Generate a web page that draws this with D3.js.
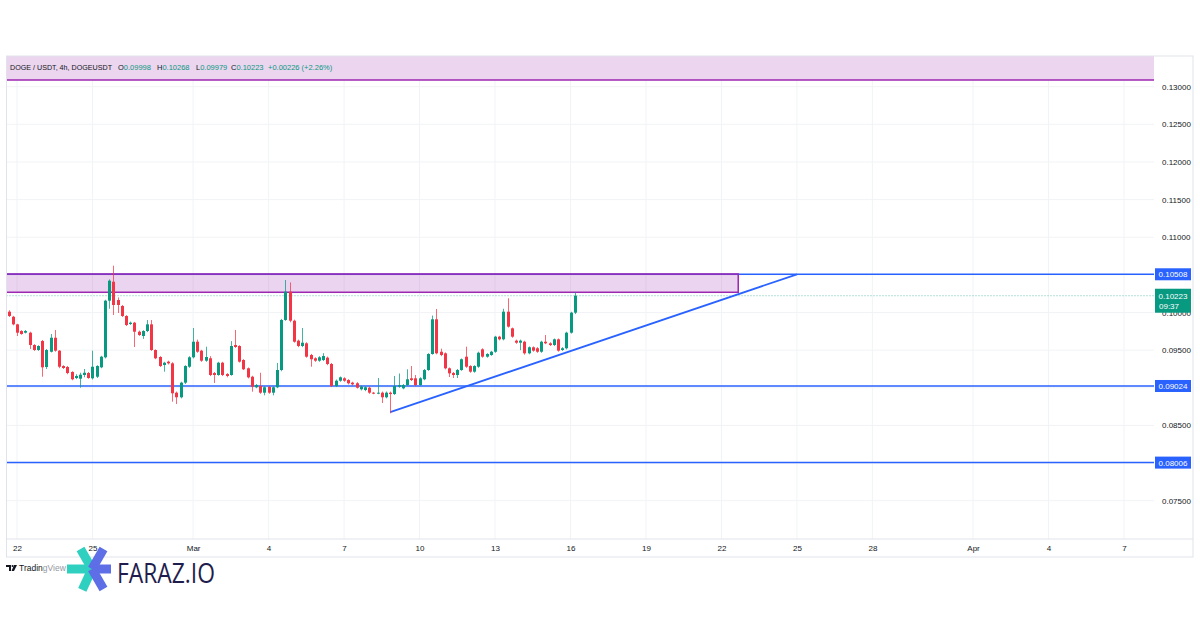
<!DOCTYPE html>
<html><head><meta charset="utf-8">
<script src="https://cdn.jsdelivr.net/npm/d3@7"></script>
<style>
html,body{margin:0;padding:0;background:#fff;}
svg{display:block;font-family:"Liberation Sans",Arial,sans-serif;}
</style></head>
<body><svg id="c" width="1200" height="630"></svg>
<script>
// ---------- DATA ----------
const symbolTitle = "DOGE / USDT, 4h, DOGEUSDT";
const startTime = Date.UTC(2023, 1, 21, 16); // first 4h candle
const intervalHours = 4;
const opens = [0.10011,0.09944,0.09843,0.09754,0.09732,0.09732,0.09568,0.09502,0.09622,0.09276,0.09479,0.09665,0.09493,0.09289,0.09276,0.09210,0.09130,0.09121,0.09170,0.09196,0.09126,0.09147,0.09272,0.09405,0.10157,0.10409,0.10166,0.10087,0.09954,0.09847,0.09865,0.09745,0.09688,0.09754,
0.09843,0.09502,0.09409,0.09303,0.09347,0.09325,0.08935,0.08874,0.09068,0.09280,0.09405,0.09612,0.09493,0.09360,0.09392,0.09196,0.09170,0.09333,0.09183,0.09170,0.09568,0.09555,0.09369,0.09259,0.09147,0.09007,0.09024,0.08935,0.09011,0.08935,0.09007,0.09236,0.09901,0.10277,0.09891,
0.09626,0.09555,0.09591,0.09436,0.09392,0.09360,0.09369,0.09400,0.09316,0.09024,0.09094,0.09126,0.09103,0.09068,0.09060,0.08980,0.08971,0.09001,0.08935,0.08927,0.08935,0.08874,0.08935,0.08917,0.09015,0.08993,0.09037,0.09126,0.09126,0.09037,0.09113,0.09236,0.09449,0.09910,
0.09479,0.09458,0.09259,0.09196,0.09170,0.09236,0.09413,0.09289,0.09214,0.09280,0.09511,0.09413,0.09436,0.09479,0.09679,0.09644,0.10011,0.09790,0.09626,0.09599,0.09612,0.09458,0.09538,0.09525,0.09479,0.09612,0.09591,0.09568,0.09644,0.09502,0.09525,0.09732,0.09998];
const highs = [0.10030,0.09955,0.09850,0.09765,0.09768,0.09745,0.09580,0.09565,0.09635,0.09515,0.09715,0.09768,0.09500,0.09300,0.09290,0.09220,0.09180,0.09200,0.09250,0.09210,0.09493,0.09300,0.09425,0.10170,0.10440,0.10622,0.10200,0.10100,0.09965,0.09880,0.09875,0.09760,0.09765,0.09900,
0.09901,0.09510,0.09420,0.09345,0.09360,0.09340,0.08950,0.09080,0.09300,0.09420,0.09794,0.09640,0.09505,0.09546,0.09420,0.09210,0.09345,0.09345,0.09195,0.09620,0.09768,0.09565,0.09380,0.09270,0.09160,0.09050,0.09200,0.09020,0.09025,0.09020,0.09330,0.09915,0.10432,0.10400,0.09905,
0.09640,0.09794,0.09605,0.09450,0.09405,0.09420,0.09460,0.09415,0.09330,0.09110,0.09150,0.09140,0.09115,0.09080,0.09075,0.09030,0.09020,0.09015,0.08945,0.09130,0.08950,0.08950,0.08950,0.09157,0.09190,0.09050,0.09246,0.09289,0.09170,0.09140,0.09250,0.09460,0.09960,0.10047,
0.09520,0.09470,0.09270,0.09210,0.09250,0.09390,0.09546,0.09300,0.09300,0.09480,0.09525,0.09460,0.09490,0.09690,0.09690,0.10050,0.10189,0.09800,0.09640,0.09640,0.09625,0.09550,0.09550,0.09540,0.09625,0.09701,0.09605,0.09655,0.09655,0.09540,0.09745,0.10010,0.10268];
const lows = [0.09940,0.09830,0.09688,0.09705,0.09722,0.09515,0.09490,0.09490,0.09147,0.09250,0.09470,0.09480,0.09260,0.09250,0.09180,0.09100,0.09115,0.09001,0.09140,0.09120,0.09110,0.09130,0.09260,0.09390,0.10050,0.09967,0.09994,0.09940,0.09820,0.09835,0.09542,0.09690,0.09650,0.09740,
0.09490,0.09380,0.09276,0.09214,0.09310,0.08815,0.08785,0.08860,0.09050,0.09265,0.09390,0.09465,0.09345,0.09345,0.09155,0.09064,0.09160,0.09155,0.09140,0.09160,0.09530,0.09335,0.09235,0.09125,0.08948,0.08995,0.08920,0.08900,0.08920,0.08900,0.08995,0.09220,0.09890,0.09870,0.09600,
0.09540,0.09540,0.09400,0.09280,0.09345,0.09345,0.09355,0.09300,0.09010,0.09010,0.09080,0.09080,0.09045,0.09030,0.08990,0.08965,0.08955,0.08920,0.08915,0.08915,0.08798,0.08860,0.08661,0.08905,0.09000,0.08980,0.09025,0.09090,0.09020,0.09025,0.09100,0.09225,0.09440,0.09445,
0.09420,0.09245,0.09143,0.09130,0.09130,0.09225,0.09265,0.09200,0.09200,0.09265,0.09400,0.09400,0.09425,0.09465,0.09630,0.09630,0.09800,0.09665,0.09585,0.09500,0.09440,0.09445,0.09480,0.09465,0.09465,0.09580,0.09555,0.09555,0.09480,0.09490,0.09510,0.09720,0.09979];
const closes = [0.09954,0.09843,0.09732,0.09715,0.09754,0.09568,0.09502,0.09555,0.09272,0.09502,0.09665,0.09493,0.09280,0.09263,0.09196,0.09113,0.09157,0.09174,0.09200,0.09130,0.09280,0.09289,0.09413,0.10157,0.10423,0.10100,0.10100,0.09954,0.09834,0.09865,0.09745,0.09701,0.09754,0.09843,
0.09502,0.09392,0.09289,0.09333,0.09325,0.08927,0.08874,0.09068,0.09289,0.09405,0.09612,0.09479,0.09360,0.09409,0.09170,0.09170,0.09333,0.09170,0.09157,0.09555,0.09542,0.09347,0.09246,0.09139,0.09015,0.09037,0.08935,0.09007,0.08935,0.09007,0.09236,0.09901,0.10277,0.09891,0.09612,
0.09555,0.09599,0.09413,0.09379,0.09360,0.09405,0.09422,0.09316,0.09024,0.09094,0.09139,0.09094,0.09060,0.09046,0.09001,0.09015,0.09007,0.08935,0.08927,0.08935,0.08874,0.08935,0.08917,0.09024,0.09037,0.09037,0.09113,0.09103,0.09037,0.09126,0.09236,0.09449,0.09910,0.09458,
0.09436,0.09259,0.09192,0.09170,0.09236,0.09379,0.09280,0.09214,0.09289,0.09466,0.09413,0.09449,0.09479,0.09679,0.09644,0.10011,0.09812,0.09679,0.09599,0.09626,0.09458,0.09538,0.09493,0.09479,0.09612,0.09591,0.09568,0.09644,0.09493,0.09525,0.09732,0.09998,0.10223];

const headerKeys = ["O","H","L","C"];
const headerValues = ["0.09998","0.10268","0.09979","0.10223"];
const headerChange = "+0.00226 (+2.26%)";
const countdown = "09:37";

const gridTicks = [0.075,0.080,0.085,0.090,0.095,0.100,0.105,0.110,0.115,0.120,0.125,0.130];
const priceLabelTicks = [0.075,0.085,0.095,0.100,0.110,0.115,0.120,0.125,0.130];
const timeTickDates = [[2023,1,22],[2023,1,25],[2023,2,1],[2023,2,4],[2023,2,7],[2023,2,10],[2023,2,13],[2023,2,16],[2023,2,19],[2023,2,22],[2023,2,25],[2023,2,28],[2023,3,1],[2023,3,4],[2023,3,7]];
const timeTickLabels = ["22","25","Mar","4","7","10","13","16","19","22","25","28","Apr","4","7"];

const levelLines = [0.10508, 0.09024, 0.08006];
const currentPrice = 0.10223;
const resistZone = {low:0.10269, high:0.10512, end:[2023,2,22,16]};
const topZone = {low:0.13089, high:0.1350};
const trendLine = [{d:[2023,2,8,20], p:0.08676}, {d:[2023,2,25,0], p:0.10508}];

// ---------- LAYOUT ----------
const L = 6.5, R = 1154, T = 56, B = 539, AX = 1193, AB = 557;
const UP = "#089981", DN = "#f23645", BLUE = "#2962ff", PURP = "#9c27b0";
const svg = d3.select("#c");
const x = d3.scaleUtc().domain([Date.UTC(2023,1,22), Date.UTC(2023,3,7)]).range([17,1124]);
const y = d3.scaleLinear().domain([0.075,0.13]).range([500.7,86.7]);
const ud = a => Date.UTC(a[0],a[1],a[2],a[3]||0);

svg.append("defs").append("clipPath").attr("id","pc").append("rect")
  .attr("x",L).attr("y",T).attr("width",R-L).attr("height",B-T);

// grid
const grid = svg.append("g");
grid.selectAll(".hg").data(gridTicks).join("line")
  .attr("x1",L).attr("x2",R).attr("y1",d=>y(d)).attr("y2",d=>y(d))
  .attr("stroke","#f2f3f6").attr("stroke-width",1);
grid.selectAll(".vg").data(timeTickDates).join("line")
  .attr("x1",d=>x(ud(d))).attr("x2",d=>x(ud(d))).attr("y1",T).attr("y2",B)
  .attr("stroke","#f2f3f6").attr("stroke-width",1);

const plot = svg.append("g").attr("clip-path","url(#pc)");

// top zone
plot.append("rect").attr("x",L).attr("width",R-L)
  .attr("y",y(topZone.high)).attr("height",y(topZone.low)-y(topZone.high))
  .attr("fill","#ebd5ef");
plot.append("line").attr("x1",L).attr("x2",R).attr("y1",y(topZone.low)).attr("y2",y(topZone.low))
  .attr("stroke",PURP).attr("stroke-width",1.5);

// level lines
plot.selectAll(".lvl").data(levelLines).join("line")
  .attr("x1",L).attr("x2",R).attr("y1",d=>y(d)).attr("y2",d=>y(d))
  .attr("stroke",BLUE).attr("stroke-width",1.5);

// resistance zone
plot.append("rect").attr("x",L-5).attr("width",x(ud(resistZone.end))-L+5)
  .attr("y",y(resistZone.high)).attr("height",y(resistZone.low)-y(resistZone.high))
  .attr("fill","rgba(156,39,176,0.2)").attr("stroke",PURP).attr("stroke-width",1.5);

// current price dotted
plot.append("line").attr("x1",L).attr("x2",R).attr("y1",y(currentPrice)).attr("y2",y(currentPrice))
  .attr("stroke",UP).attr("stroke-opacity",0.6).attr("stroke-width",1).attr("stroke-dasharray","1,2");

// trend line
plot.append("line")
  .attr("x1",x(ud(trendLine[0].d))).attr("y1",y(trendLine[0].p))
  .attr("x2",x(ud(trendLine[1].d))).attr("y2",y(trendLine[1].p))
  .attr("stroke",BLUE).attr("stroke-width",1.8);

// candles
const candles = opens.map((o,i)=>({t:startTime+i*intervalHours*3600e3,o,h:highs[i],l:lows[i],c:closes[i]}));
const cg = plot.append("g");
cg.selectAll(".w").data(candles).join("line")
  .attr("x1",d=>Math.round(x(d.t))+0.5).attr("x2",d=>Math.round(x(d.t))+0.5)
  .attr("y1",d=>y(d.h)).attr("y2",d=>y(d.l))
  .attr("stroke",d=>d.c>=d.o?UP:DN).attr("stroke-opacity",0.75).attr("stroke-width",1);
cg.selectAll(".b").data(candles).join("rect")
  .attr("x",d=>Math.round(x(d.t))-1).attr("width",3)
  .attr("y",d=>y(Math.max(d.o,d.c))).attr("height",d=>Math.max(1,Math.abs(y(d.o)-y(d.c))))
  .attr("fill",d=>d.c>=d.o?UP:DN);

// header text
const hg = svg.append("g").attr("font-size",7.5);
hg.append("text").attr("x",10).attr("y",70).attr("fill","#131722")
  .attr("textLength",102).attr("lengthAdjust","spacingAndGlyphs").text(symbolTitle);
const hx = [118,157,196,231];
headerKeys.forEach((k,i)=>{
  const t = hg.append("text").attr("x",hx[i]).attr("y",70).attr("fill","#131722").text(k);
  t.append("tspan").attr("fill",UP).text(headerValues[i]);
});
hg.append("text").attr("x",268).attr("y",70).attr("fill",UP).text(headerChange);

// frame
svg.append("rect").attr("x",L).attr("y",T).attr("width",AX-L).attr("height",AB-T)
  .attr("fill","none").attr("stroke","#e0e3eb").attr("stroke-width",1);
svg.append("line").attr("x1",L).attr("x2",AX).attr("y1",B).attr("y2",B).attr("stroke","#e0e3eb");

// price axis
const ya = d3.axisRight(y).tickValues(priceLabelTicks).tickFormat(d3.format(".5f")).tickSize(0).tickPadding(8);
const yg = svg.append("g").attr("transform",`translate(${R},0)`).call(ya);
yg.select(".domain").remove();
yg.selectAll("text").attr("font-size",8).attr("fill","#131722").attr("font-family","Liberation Sans, Arial");

// time axis
const xa = d3.axisBottom(x).tickValues(timeTickDates.map(ud)).tickFormat((d,i)=>timeTickLabels[i]).tickSize(0).tickPadding(6);
const xg = svg.append("g").attr("transform",`translate(0,${B})`).call(xa);
xg.select(".domain").remove();
xg.selectAll("text").attr("font-size",8).attr("fill","#131722").attr("font-family","Liberation Sans, Arial");

// level labels
levelLines.forEach(v=>{
  svg.append("rect").attr("x",R+1).attr("y",y(v)-6).attr("width",36).attr("height",12).attr("fill",BLUE);
  svg.append("text").attr("x",R+19).attr("y",y(v)+3).attr("text-anchor","middle")
    .attr("font-size",8).attr("fill","#fff").text(d3.format(".5f")(v));
});
// current price label
svg.append("rect").attr("x",R+1).attr("y",y(currentPrice)-7).attr("width",36).attr("height",24).attr("fill",UP);
svg.append("text").attr("x",R+19).attr("y",y(currentPrice)+3).attr("text-anchor","middle")
  .attr("font-size",8).attr("fill","#fff").text(d3.format(".5f")(currentPrice));
svg.append("text").attr("x",R+5).attr("y",y(currentPrice)+13).attr("text-anchor","start")
  .attr("font-size",8).attr("fill","#fff").text(countdown);

// TradingView mark
const tv = svg.append("g").attr("transform","translate(6,565)");
tv.append("path").attr("d","M0,0 H5 V6 H3 V2 H0 Z").attr("fill","#131722");
tv.append("circle").attr("cx",6.5).attr("cy",1).attr("r",1).attr("fill","#131722");
tv.append("path").attr("d","M8,0 H11 L8,6 H5.5 Z").attr("fill","#131722");
svg.append("text").attr("x",19).attr("y",571).attr("font-size",8.5).attr("fill","#131722")
  .text("Tradin").append("tspan").attr("fill","#9598a1").text("gView");

// FARAZ logo
const lg = svg.append("g").attr("transform","translate(92,569)");
const arms = [
  {a:180, c:"#2fd0c0", len:25},
  {a:-120, c:"#2fd0c0", len:23},
  {a:115, c:"#2fd0c0", len:23},
  {a:-60, c:"#5d6ee6", len:23},
  {a:0, c:"#5d6ee6", len:19},
  {a:60, c:"#5d6ee6", len:23}
];
arms.forEach(m=>{
  const r = m.a*Math.PI/180;
  lg.append("line").attr("x1",0).attr("y1",0)
    .attr("x2",m.len*Math.cos(r)).attr("y2",m.len*Math.sin(r))
    .attr("stroke",m.c).attr("stroke-width",9);
});
svg.append("text").attr("x",117).attr("y",583).attr("font-size",27).attr("font-family","Open Sans, sans-serif")
  .attr("fill","#1f1d4d").attr("textLength",98).attr("lengthAdjust","spacingAndGlyphs").text("FARAZ.IO");
</script></body></html>
